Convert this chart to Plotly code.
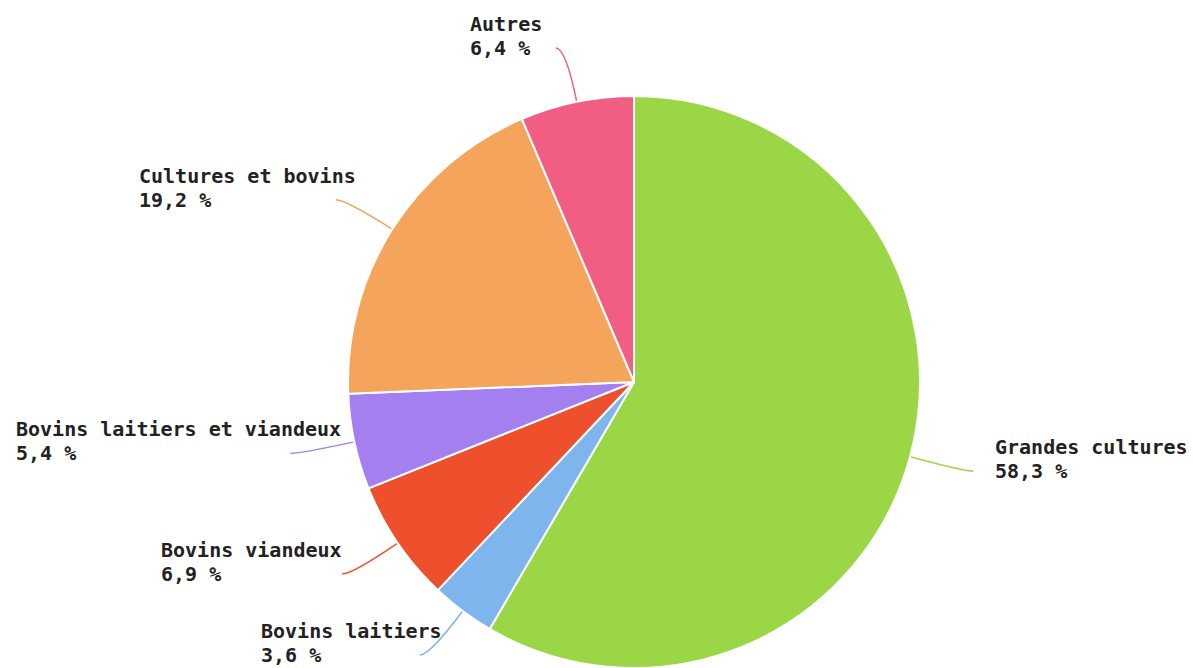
import math
import plotly.graph_objects as go

# ---- data ----
categories = ["Grandes cultures", "Bovins laitiers", "Bovins viandeux",
              "Bovins laitiers et viandeux", "Cultures et bovins", "Autres"]
values = [58.3, 3.6, 6.9, 5.4, 19.2, 6.4]
colors = ["#9bd646", "#7db5ec", "#ee502e", "#a47ff0", "#f5a45c", "#f25d84"]

# ---- layout constants (pixels) ----
W, H = 1193, 668
CX, CY, R = 634, 382, 286
L1, L2 = 55, 10          # leader line: radial part, horizontal part
GAP = 22                 # gap between leader line end and label
FONT = "DejaVu Sans Mono"
FS = 20
TEXT_COLOR = "#222222"

# approximate proportional (Helvetica Bold) widths used for left label layout
HB = {"A": 722, "B": 722, "C": 722, "G": 778, "a": 556, "b": 611, "c": 556,
      "d": 611, "e": 556, "g": 611, "i": 278, "l": 278, "n": 611, "o": 611,
      "r": 389, "s": 556, "t": 333, "u": 611, "v": 556, "x": 556, " ": 278}


def est_width(s):
    return sum(HB.get(ch, 556) for ch in s) / 1000 * FS


def px(x):
    return x / W


def py(y):
    return 1 - y / H


def fmt(v):
    return f"{v:.1f}".replace(".", ",") + " %"


fig = go.Figure()
fig.add_trace(go.Pie(
    labels=categories, values=values, sort=False, direction="clockwise",
    rotation=0, textinfo="none", hoverinfo="label+percent", showlegend=False,
    marker=dict(colors=colors, line=dict(color="white", width=2)),
    domain=dict(x=[px(CX - R), px(CX + R)], y=[py(CY + R), py(CY - R)]),
))

total = sum(values)
cum = 0.0
shapes, annotations = [], []
for name, v, col in zip(categories, values, colors):
    mid = (cum + v / 2) / total
    cum += v
    th = 2 * math.pi * mid
    dx, dy = math.sin(th), -math.cos(th)
    ax, ay = CX + R * dx, CY + R * dy
    bx, by = CX + (R + L1) * dx, CY + (R + L1) * dy
    side = 1 if dx >= 0 else -1
    ex, ey = bx + side * L2, by
    shapes.append(dict(
        type="path", xref="paper", yref="paper",
        path=f"M {px(ax)} {py(ay)} Q {px(bx)} {py(by)} {px(ex)} {py(ey)}",
        line=dict(color=col, width=1.5), layer="below",
    ))
    if side > 0:
        left = ex + GAP
    else:
        left = ex - GAP - est_width(name)
    for txt, base in ((name, ey - 17), (fmt(v), ey + 7)):
        annotations.append(dict(
            xref="paper", yref="paper", x=px(left), y=py(base - 7),
            xanchor="left", yanchor="middle", showarrow=False,
            text=f"<b>{txt}</b>", borderpad=0, borderwidth=0,
            font=dict(family=FONT, size=FS, color=TEXT_COLOR),
        ))

fig.update_layout(
    width=W, height=H, margin=dict(l=0, r=0, t=0, b=0),
    paper_bgcolor="white", plot_bgcolor="white",
    shapes=shapes, annotations=annotations,
)
fig.write_html("out.html", config={"displayModeBar": False},
               post_script="document.body.style.margin='0';")
